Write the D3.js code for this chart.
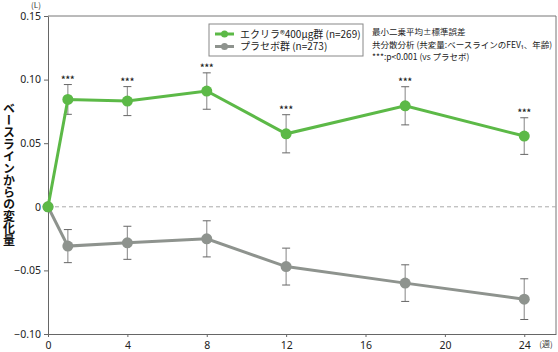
<!DOCTYPE html>
<html>
<head>
<meta charset="utf-8">
<script src="https://cdn.jsdelivr.net/npm/d3@7"></script>
<style>
  body { margin: 0; background: #fff; }
  text { font-family: "Noto Sans CJK JP", "Noto Sans", sans-serif; }
</style>
</head>
<body>
<div id="chart"></div>
<script>
// Data
const weeks = [0, 1, 4, 8, 12, 18, 24];
const eklira = [0, 0.0844, 0.0831, 0.0910, 0.0574, 0.0794, 0.0556];
const ekliraErr = [0, 0.0117, 0.0114, 0.0143, 0.0150, 0.0150, 0.0144];
const placebo = [0, -0.0309, -0.0283, -0.0252, -0.0470, -0.0600, -0.0726];
const placeboErr = [0, 0.0130, 0.0130, 0.0142, 0.0145, 0.0144, 0.0160];
const xTicks = [0, 4, 8, 12, 16, 20, 24];
const yTicks = [-0.10, -0.05, 0, 0.05, 0.10, 0.15];
const legendLabels = ["エクリラ®400μg群 (n=269)", "プラセボ群 (n=273)"];
const notes = ["最小二乗平均±標準誤差", "共分散分析 (共変量:ベースラインのFEV₁、年齢)", "***:p<0.001 (vs プラセボ)"];

const W = 558, H = 352;
const margin = { top: 16, right: 2, bottom: 18, left: 48 };
const width = W - margin.left - margin.right;
const height = H - margin.top - margin.bottom;

const green = "#5cb947";
const grey = "#8e938e";

const root = d3.select("#chart").append("svg")
    .attr("width", W)
    .attr("height", H);

const svg = root.append("g")
    .attr("transform", `translate(${margin.left}, ${margin.top})`);

const x = d3.scaleLinear().domain([0, 25.6]).range([0, width]);
const y = d3.scaleLinear().domain([-0.10, 0.15]).range([height, 0]);

// frame (top and right)
svg.append("path")
    .attr("d", `M0,0H${width}V${height}`)
    .attr("fill", "none")
    .attr("stroke", "#777")
    .attr("stroke-width", 1);

// zero line
svg.append("line")
    .attr("x1", 0).attr("x2", width)
    .attr("y1", y(0)).attr("y2", y(0))
    .attr("stroke", "#aaa")
    .attr("stroke-dasharray", "4,3");

// axes
const xAxis = svg.append("g")
    .attr("transform", `translate(0, ${height})`)
    .call(d3.axisBottom(x).tickValues(xTicks).tickSize(3).tickSizeOuter(0).tickFormat(d3.format("d")));

const yAxis = svg.append("g")
    .call(d3.axisLeft(y).tickValues(yTicks).tickSize(4).tickSizeOuter(0)
        .tickFormat(d => d === 0 ? "0" : d3.format(".2f")(d)));

[xAxis, yAxis].forEach(a => {
    a.select(".domain").attr("stroke", "#666");
    a.selectAll(".tick line").attr("stroke", "#666");
    a.selectAll(".tick text").attr("fill", "#222").style("font-size", "10.5px")
        .style("font-family", "'Noto Sans', sans-serif");
});
xAxis.selectAll(".tick text").attr("dy", "0.9em");

// units
root.append("text").attr("x", 36).attr("y", 8)
    .attr("text-anchor", "middle").style("font-size", "8px").attr("fill", "#333").text("(L)");
root.append("text").attr("x", 546).attr("y", 347)
    .attr("text-anchor", "middle").style("font-size", "8px").attr("fill", "#333").text("(週)");

// y label (vertical)
root.append("text")
    .attr("x", 9).attr("y", 174)
    .attr("text-anchor", "middle")
    .style("writing-mode", "vertical-rl")
    .style("font-size", "12px")
    .style("font-weight", "bold")
    .attr("fill", "#111")
    .text("ベースラインからの変化量");

function drawSeries(vals, errs, color, stars) {
    const pts = weeks.map((w, i) => ({ w: w, v: vals[i], e: errs[i] }));
    const bars = pts.filter(d => d.e > 0);

    // error bars
    svg.selectAll(null).data(bars).enter().append("line")
        .attr("x1", d => x(d.w)).attr("x2", d => x(d.w))
        .attr("y1", d => y(d.v + d.e)).attr("y2", d => y(d.v - d.e))
        .attr("stroke", "#999").attr("stroke-width", 1.2);
    [1, -1].forEach(s => {
        svg.selectAll(null).data(bars).enter().append("line")
            .attr("x1", d => x(d.w) - 4).attr("x2", d => x(d.w) + 4)
            .attr("y1", d => y(d.v + s * d.e)).attr("y2", d => y(d.v + s * d.e))
            .attr("stroke", "#666").attr("stroke-width", 1);
    });

    const line = d3.line().x(d => x(d.w)).y(d => y(d.v));
    svg.append("path").datum(pts)
        .attr("d", line)
        .attr("fill", "none")
        .attr("stroke", color)
        .attr("stroke-width", 3);

    svg.selectAll(null).data(pts).enter().append("circle")
        .attr("cx", d => x(d.w)).attr("cy", d => y(d.v))
        .attr("r", 5.5)
        .attr("fill", color);

    if (stars) {
        svg.selectAll(null).data(bars).enter().append("text")
            .attr("x", d => x(d.w)).attr("y", d => y(d.v + d.e) - 1.5)
            .attr("text-anchor", "middle")
            .style("font-size", "9px")
            .style("font-weight", "bold")
            .attr("fill", "#222")
            .text("***");
    }
}

drawSeries(placebo, placeboErr, grey, false);
drawSeries(eklira, ekliraErr, green, true);

// legend
const lg = root.append("g").attr("transform", "translate(209, 24)");
lg.append("rect").attr("width", 154).attr("height", 32)
    .attr("fill", "#fff").attr("stroke", "#888");
[green, grey].forEach((c, i) => {
    const yy = 10 + i * 12.5;
    lg.append("line").attr("x1", 6).attr("x2", 25).attr("y1", yy).attr("y2", yy)
        .attr("stroke", c).attr("stroke-width", 3);
    lg.append("circle").attr("cx", 15.5).attr("cy", yy).attr("r", 3.5).attr("fill", c);
    lg.append("text").attr("x", 31).attr("y", yy + 3.5)
        .style("font-size", "10px").attr("fill", "#222").text(legendLabels[i]);
});

// notes
root.selectAll(null).data(notes).enter().append("text")
    .attr("x", 372).attr("y", (d, i) => 35 + i * 12.5)
    .style("font-size", "8.5px")
    .attr("fill", "#222")
    .text(d => d);
</script>
</body>
</html>
